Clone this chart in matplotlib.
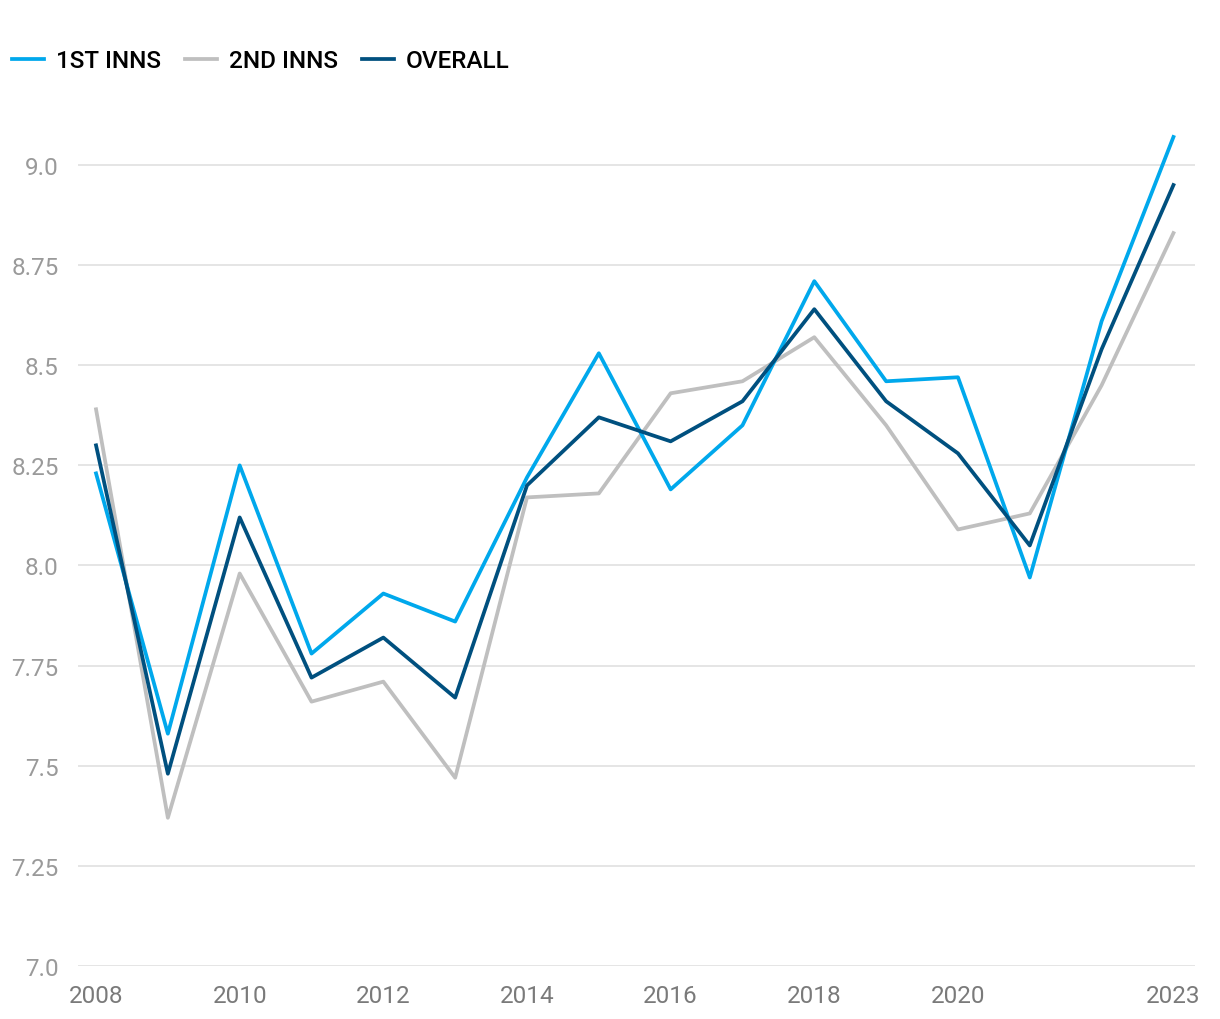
import matplotlib
matplotlib.use("Agg")
import matplotlib.pyplot as plt

plt.rcParams['font.family'] = ['Roboto', 'DejaVu Sans']

years = list(range(2008, 2024))
first_inns = [8.23, 7.58, 8.25, 7.78, 7.93, 7.86, 8.22, 8.53, 8.19, 8.35, 8.71, 8.46, 8.47, 7.97, 8.61, 9.07]
second_inns = [8.39, 7.37, 7.98, 7.66, 7.71, 7.47, 8.17, 8.18, 8.43, 8.46, 8.57, 8.35, 8.09, 8.13, 8.45, 8.83]
overall = [8.30, 7.48, 8.12, 7.72, 7.82, 7.67, 8.20, 8.37, 8.31, 8.41, 8.64, 8.41, 8.28, 8.05, 8.54, 8.95]

y_ticks = [7.0, 7.25, 7.5, 7.75, 8.0, 8.25, 8.5, 8.75, 9.0]
y_labels = ["7.0", "7.25", "7.5", "7.75", "8.0", "8.25", "8.5", "8.75", "9.0"]
x_ticks = [2008, 2010, 2012, 2014, 2016, 2018, 2020, 2023]

fig = plt.figure(figsize=(12.2, 10.2), dpi=100)
ax = fig.add_axes([0.064, 0.052, 0.9155, 0.8245])

ax.plot(years, second_inns, color="#BFBFBF", lw=2.7, label="2ND INNS", zorder=3)
ax.plot(years, first_inns, color="#00A8EC", lw=2.7, label="1ST INNS", zorder=4)
ax.plot(years, overall, color="#00507F", lw=2.7, label="OVERALL", zorder=5)

ax.set_xlim(2007.75, 2023.3)
ax.set_ylim(7.0, 9.1)
ax.set_yticks(y_ticks)
ax.set_yticklabels(y_labels)
ax.set_xticks(x_ticks)
ax.set_xticklabels([str(x) for x in x_ticks])
ax.grid(axis="y", color="#E3E3E3", lw=1.3)
ax.set_axisbelow(True)
for s in ax.spines.values():
    s.set_visible(False)
ax.tick_params(axis="y", length=0, pad=14, labelsize=17.5, labelcolor="#9A9A9A")
ax.tick_params(axis="x", length=0, pad=13, labelsize=17.5, labelcolor="#7A7A7A")

h, l = ax.get_legend_handles_labels()
order = [1, 0, 2]
fig.legend([h[i] for i in order], [l[i] for i in order], loc="upper left",
           bbox_to_anchor=(-0.008, 0.972), ncol=3, frameon=False,
           handlelength=1.3, handletextpad=0.5, columnspacing=1.0,
           prop={'size': 17.5, 'weight': 'medium'})

fig.savefig("out.png", dpi=100)
